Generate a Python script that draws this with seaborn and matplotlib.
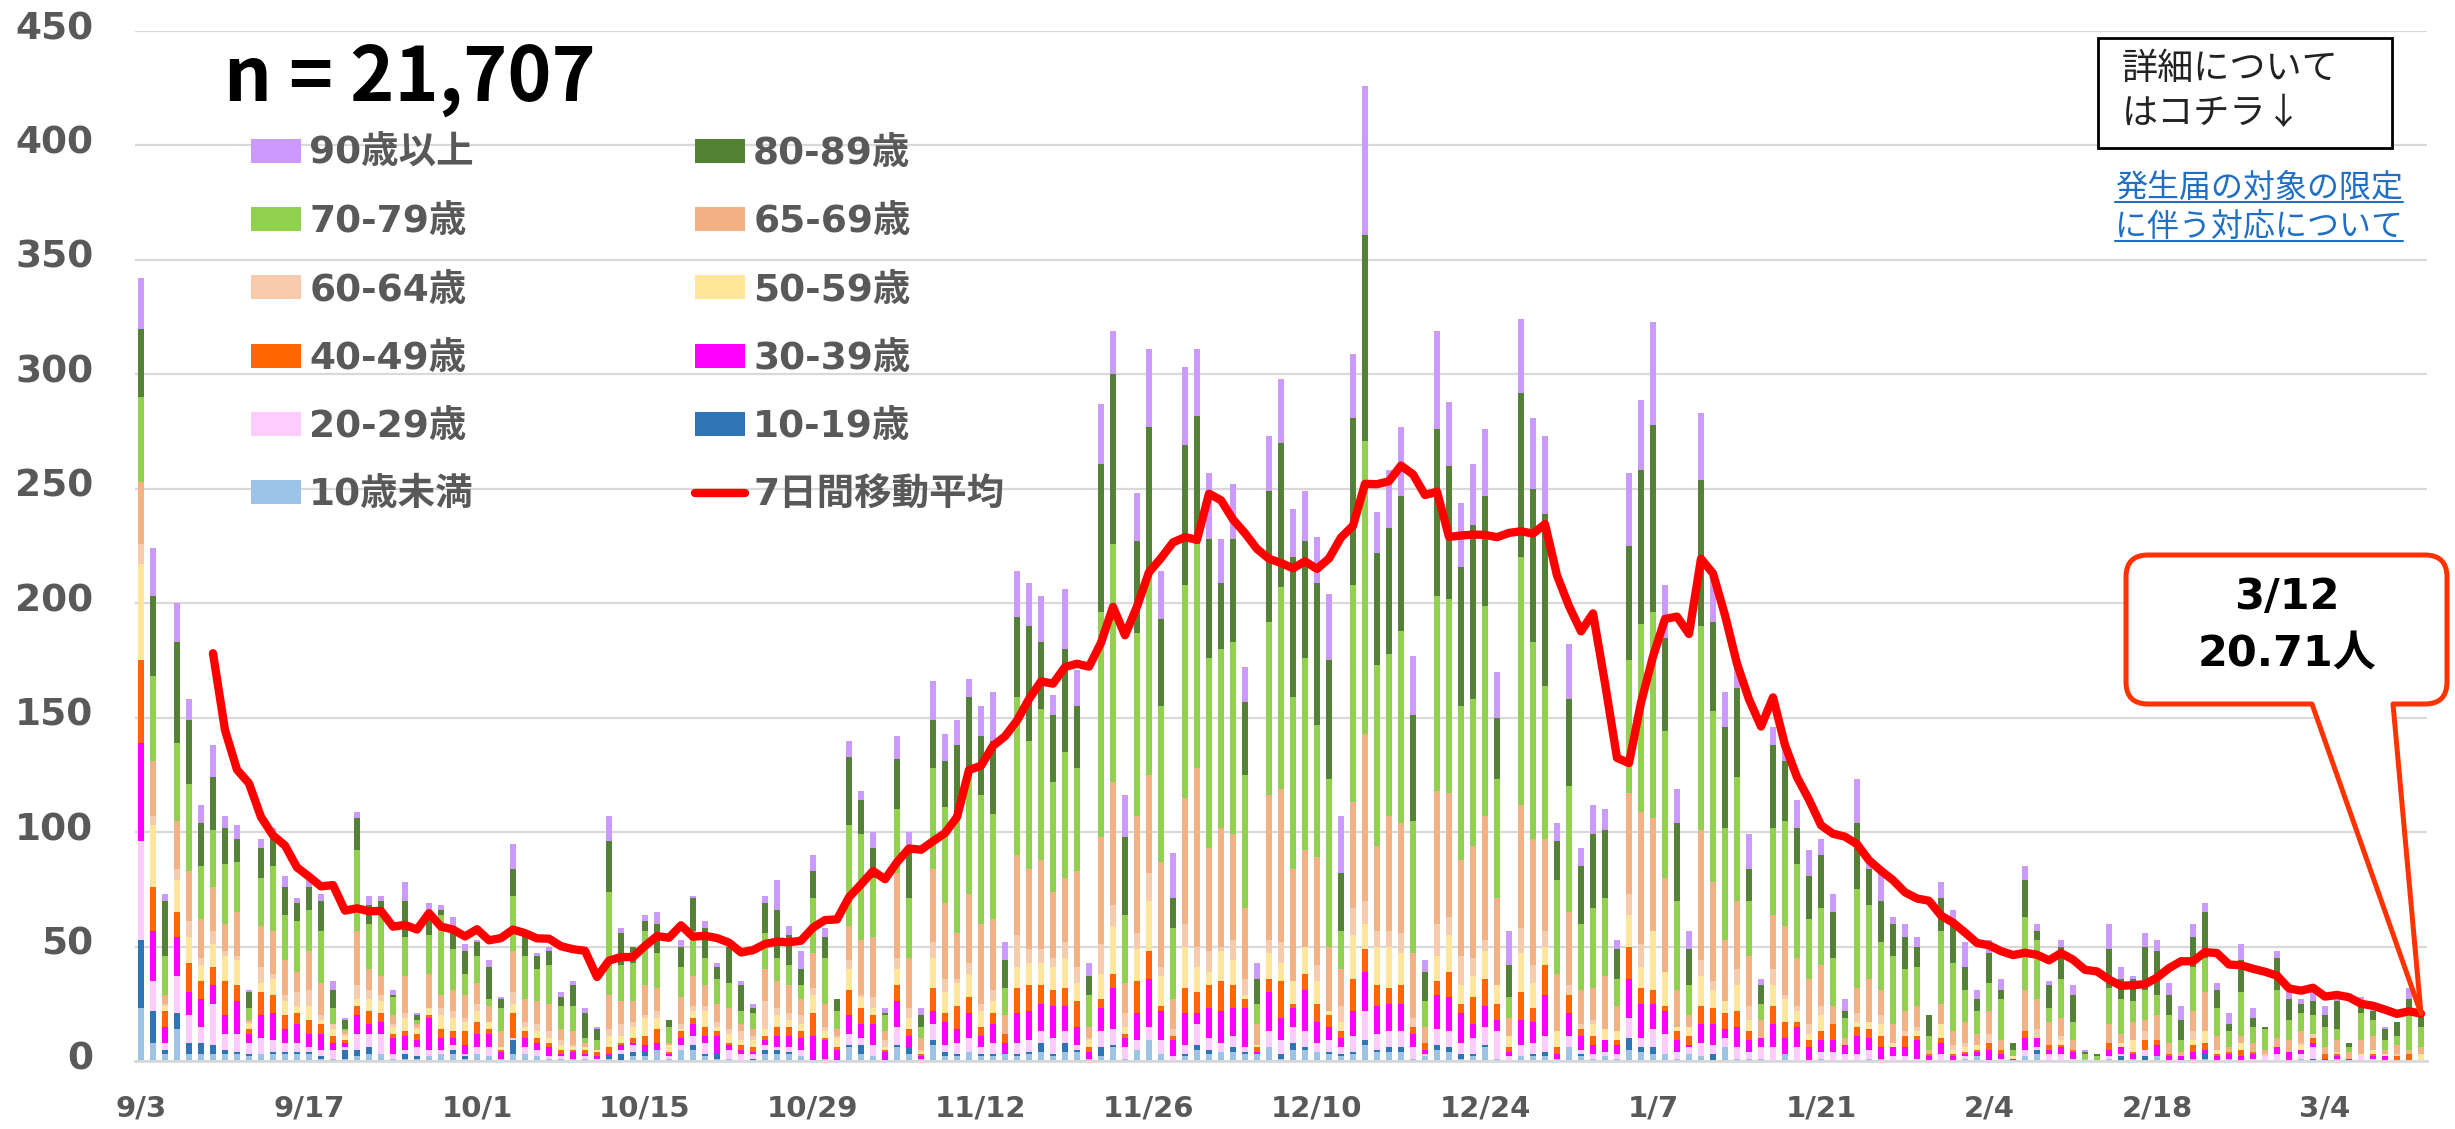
import numpy as np
import pandas as pd
import matplotlib
matplotlib.use("Agg")
import matplotlib.pyplot as plt
import matplotlib.transforms as mtransforms
import seaborn as sns
from matplotlib.patches import Patch, PathPatch, Rectangle
from matplotlib.lines import Line2D
from matplotlib.path import Path
from matplotlib.font_manager import FontProperties

# Daily cases by age group, 9/3 - 3/12
u10 = [23,8,3,14,3,3,3,3,3,2, 3,3,3,3,3,1,1,1,2,3, 3,1,1,1,2,3,3,1,3,2, 1,3,3,2,1,1,1,1,0,1,
       0,2,2,5,1,5,5,2,1,1, 0,0,3,3,3,2,0,1,0,6, 3,2,0,6,3,1,7,2,2,4, 2,2,3,2,3,4,2,4,4,1,
       2,6,1,5,9,3,0,2,5,3, 4,4,3,3,6,1,5,5,4,3, 2,3,7,4,4,4,1,2,5,4, 1,2,6,1,0,2,2,2,1,6,
       2,1,2,1,5,4,3,3,1,3, 2,0,6,1,1,1,0,3,0,0, 1,0,0,0,1,1,0,0,0,0, 0,0,1,2,0,0,0,2,3,0,
       0,0,0,0,1,0,1,0,2,0, 0,1,1,0,1,0,0,0,0,0, 1,0,0,1,0,0,0,0,0,0, 0]
a10 = [30,14,2,7,5,5,4,2,1,1, 0,1,1,1,1,1,0,4,3,3, 0,0,2,1,0,0,2,1,0,0, 0,6,0,0,0,0,0,0,0,1,
       3,2,2,0,0,0,2,1,2,0, 0,1,2,2,1,0,0,0,0,1, 4,0,0,1,3,0,2,2,1,0, 1,1,0,1,1,4,1,4,1,0,
       4,1,0,0,0,0,0,1,2,2, 0,2,1,0,0,2,3,1,0,1, 1,1,2,1,2,2,0,0,2,2, 2,1,1,0,0,0,1,2,0,0,
       1,0,0,0,5,2,3,0,0,0, 0,3,0,0,0,0,0,0,0,0, 0,0,0,0,0,0,0,0,0,0, 0,0,0,0,0,0,0,0,2,0,
       0,0,0,0,0,2,0,2,0,0, 0,0,2,0,0,0,0,0,0,0, 0,1,0,0,0,0,0,0,0,0, 0]
a20 = [43,13,3,16,12,7,18,7,8,5, 7,5,4,4,2,3,4,1,7,6, 9,2,2,4,3,2,2,1,3,4, 0,1,3,3,1,1,0,1,1,0,
       2,3,0,0,1,2,4,5,0,4, 3,2,2,1,2,3,0,0,0,5, 3,5,0,8,0,0,7,3,5,6, 3,5,0,5,5,5,7,5,2,0,
       7,7,5,4,6,6,2,4,9,5, 4,5,2,0,7,6,7,7,4,5, 3,7,13,7,7,7,5,1,7,7, 5,7,8,12,2,5,5,7,0,5,
       2,2,2,2,9,4,8,9,3,3, 6,4,4,5,3,5,6,0,6,0, 3,4,3,3,4,0,2,2,1,0, 3,0,1,0,0,1,0,3,1,3,
       3,1,0,0,1,1,0,3,0,0, 0,0,0,0,0,0,1,2,3,0, 2,5,0,0,0,2,1,0,0,0, 0]
a30 = [43,22,7,17,10,12,8,8,14,4, 10,12,6,8,6,7,3,2,8,4, 5,7,6,3,14,5,3,4,6,6, 3,0,4,3,4,1,3,1,1,1,
       2,1,3,3,1,3,5,3,8,2, 2,1,2,5,5,5,11,8,5,8, 6,9,4,11,5,1,6,10,6,11, 5,8,5,13,13,12,14,11,8,3,
       10,18,4,12,21,13,7,14,5,13, 14,12,17,1,17,10,8,18,9,6, 4,11,17,12,12,12,6,2,15,15,
       13,6,9,5,2,11,9,18,2,10, 6,4,5,4,17,15,11,10,5,1, 8,9,4,9,5,4,10,7,9,6,
       5,5,4,8,5,5,4,4,8,2, 5,2,1,2,5,2,1,5,4,2, 3,3,0,0,3,3,2,0,5,2, 2,3,2,2,2,2,2,0,3,4,
       2,2,1,1,1,0,1,2,0,0, 0]
a40 = [36,19,7,11,13,8,8,15,7,2, 10,8,6,5,6,4,3,1,4,6, 4,2,2,3,1,4,3,6,5,2, 1,11,3,2,2,2,1,2,2,3,
       1,2,4,6,1,3,3,4,2,1, 2,2,2,4,4,3,10,1,1,11, 7,4,1,7,3,1,10,4,10,7, 4,5,4,11,11,8,7,8,11,2,
       4,6,2,14,12,2,2,11,9,10, 13,10,4,2,6,16,2,7,8,5, 3,14,10,9,7,8,3,3,6,11,
       4,12,12,7,2,12,6,13,3,8, 3,4,0,2,14,7,6,2,4,4, 8,7,7,7,4,0,8,7,2,3,
       4,7,0,4,4,5,0,5,2,1, 2,1,1,1,3,2,0,3,0,2, 1,1,0,0,3,0,1,4,2,1, 0,3,3,1,1,3,1,0,0,0,
       0,2,2,1,0,0,1,0,2,3, 0]
a50 = [42,27,2,14,11,7,10,11,11,2, 4,7,6,3,6,2,3,2,3,5, 5,3,6,2,3,6,6,4,5,3, 1,4,2,3,2,2,1,1,1,5,
       3,5,8,5,3,1,3,7,2,4, 2,3,3,5,3,3,8,3,4,9, 5,3,1,7,5,1,13,9,10,10, 7,5,0,9,10,10,10,13,8,3,
       11,21,3,14,22,13,0,18,11,6, 13,11,2,1,11,8,10,12,10,2, 4,19,11,17,18,14,0,0,11,16,
       8,9,12,8,5,17,11,8,7,0, 0,5,5,4,14,9,26,15,2,4, 13,8,5,11,5,0,9,10,5,3,
       7,0,0,2,3,5,2,0,2,0, 6,2,2,2,0,0,1,0,0,0, 2,0,0,0,0,2,5,0,0,0, 0,2,5,2,0,3,0,0,0,0,
       2,0,0,0,0,1,2,1,0,0, 3]
a60 = [9,4,1,5,7,3,6,2,2,1, 7,2,3,6,7,2,2,1,6,4, 3,1,2,1,0,3,3,2,3,0, 0,5,2,3,3,2,1,0,0,3,
       5,2,1,3,0,2,2,2,2,2, 4,2,12,3,3,4,3,2,1,4, 1,5,3,5,4,1,7,6,2,5, 3,5,0,14,6,6,4,7,7,1,
       13,9,6,7,12,4,3,10,9,9, 2,9,7,0,6,9,0,0,7,0, 7,12,10,7,7,9,4,0,14,8,
       13,8,5,0,0,11,8,7,0,4, 2,2,0,0,9,10,0,0,0,0, 7,4,0,7,6,0,7,2,2,4,
       4,0,0,4,0,4,0,2,2,0, 0,2,2,0,4,0,0,0,4,0, 2,0,0,0,0,0,0,4,0,0, 0,4,0,0,0,0,0,1,0,0,
       1,2,0,1,0,0,0,0,1,0, 0]
a65 = [27,24,4,21,22,17,19,12,19,1, 18,19,15,9,17,14,0,1,24,9, 8,4,16,1,15,6,9,10,9,7,
       7,18,10,10,12,5,6,2,0,15, 10,9,13,10,1,12,13,9,8,9, 3,3,14,12,12,7,15,10,3,15,
       24,26,4,37,22,5,32,33,20,30, 35,31,8,35,35,39,29,28,42,5, 47,54,13,51,43,46,13,55,78,45,
       52,46,31,9,63,67,49,42,47,28, 16,46,73,37,50,48,28,7,58,54, 42,49,54,38,8,54,55,40,25,32,
       15,14,23,11,44,58,49,41,16,5, 57,43,27,30,22,8,24,30,21,20, 18,8,3,11,19,11,8,9,9,2,
       9,6,9,5,10,4,0,18,13,10, 8,4,1,0,8,4,8,5,11,5, 2,9,17,6,2,3,4,2,4,5,
       5,0,3,5,3,6,6,2,4,2, 3]
a70 = [37,37,17,34,38,23,25,26,22,5, 21,28,20,22,18,23,7,1,35,20, 27,8,17,2,17,35,18,9,12,3,
       10,24,19,14,17,10,11,2,4,45, 16,17,24,15,7,13,20,12,11,11, 6,7,16,10,9,6,24,20,8,44,
       46,26,7,28,26,5,44,42,52,55, 56,46,12,69,56,66,48,55,45,14, 98,104,30,80,89,68,31,93,98,83,
       78,84,58,9,76,88,75,84,58,73, 17,95,128,79,71,84,58,11,85,85, 67,64,92,52,9,108,86,67,41,55,
       29,35,34,12,58,82,90,64,39,13, 89,75,49,54,24,7,38,46,41,26, 25,21,9,43,32,21,30,18,17,6,
       32,30,14,10,12,18,3,32,26,6, 17,8,2,2,16,15,9,13,9,12, 5,19,15,12,7,19,7,9,21,9,
       8,8,9,5,2,12,7,4,4,16, 9]
a80 = [30,35,24,44,28,19,23,16,10,7, 13,15,12,8,10,13,8,4,14,8, 6,1,16,2,10,2,10,10,6,14,
       4,12,9,6,6,4,9,11,5,22, 14,7,4,13,3,9,14,13,5,16, 11,2,13,21,13,7,12,9,5,30,
       15,13,1,22,21,5,21,20,30,31, 26,32,12,35,50,29,29,45,27,8, 65,74,34,40,63,38,13,61,56,52,
       29,45,32,11,57,63,61,51,62,52, 25,73,90,49,55,59,46,13,73,58, 61,76,48,27,14,72,67,75,17,38,
       25,32,30,13,50,67,82,41,34,16, 64,39,44,39,14,8,36,26,16,19, 23,20,3,29,16,18,14,14,9,9,
       14,19,10,5,13,4,3,16,4,10, 14,12,1,1,17,9,10,19,19,9, 9,13,20,8,3,14,4,1,14,9,
       4,6,5,12,2,5,4,5,6,6, 6]
a90 = [22,21,3,17,9,8,14,5,6,1, 4,2,5,2,3,3,4,1,3,4, 2,2,8,1,4,2,4,3,1,3, 1,11,2,1,2,2,2,2,1,11,
       2,0,3,5,0,3,1,3,2,0, 2,2,3,13,4,8,7,4,0,7, 4,7,2,10,8,3,17,12,11,8, 13,21,8,20,19,20,9,26,16,6,
       26,19,18,21,34,21,20,34,29,29, 19,24,15,7,24,28,21,22,20,29, 25,28,65,18,25,30,26,5,43,28,
       28,27,29,20,15,32,31,34,8,24, 8,13,9,4,32,31,45,23,15,8, 29,20,15,12,15,3,8,6,12,11,
       7,8,5,19,4,12,3,6,4,0, 7,4,11,4,6,5,0,6,3,2, 3,4,1,0,11,5,1,6,5,5, 6,6,4,3,5,7,4,0,3,3,
       2,4,4,2,0,2,2,1,0,5, 0]

groups = [u10, a10, a20, a30, a40, a50, a60, a65, a70, a80, a90]
group_labels = ['10歳未満', '10-19歳', '20-29歳', '30-39歳', '40-49歳', '50-59歳',
                '60-64歳', '65-69歳', '70-79歳', '80-89歳', '90歳以上']
colors = ['#9DC3E6', '#2E75B6', '#FFCCFF', '#FF00FF', '#FF6600', '#FFE699',
          '#F8CBAD', '#F4B183', '#92D050', '#548235', '#CC99FF']
tick_labels = ['9/3', '9/17', '10/1', '10/15', '10/29', '11/12', '11/26',
               '12/10', '12/24', '1/7', '1/21', '2/4', '2/18', '3/4']

# setup
sns.set_theme(style="white")
plt.rcParams['font.family'] = ['DejaVu Sans', 'Noto Sans CJK JP']
GRAY = '#595959'

W, H = 2455, 1129
fig = plt.figure(figsize=(W / 100, H / 100), dpi=100)
ax = fig.add_axes([135 / W, 68 / H, 2292 / W, 1030 / H])

days = np.arange(len(u10))
stack = np.array(groups)
cum = np.cumsum(stack, axis=0)
total = stack.sum(axis=0)

# stacked bars: draw cumulative heights from the top group down
for k in range(len(groups) - 1, -1, -1):
    sns.barplot(x=days, y=cum[k], color=colors[k], width=0.58, saturation=1,
                errorbar=None, linewidth=0, ax=ax, zorder=2)

# 7-day moving average
ma = pd.Series(total).rolling(7).mean()
sns.lineplot(x=days, y=ma.values, color='#FF0000', linewidth=6, estimator=None,
             ax=ax, zorder=5, solid_joinstyle='round', solid_capstyle='round')

ax.set_xlim(-0.5, len(days) - 0.5)
ax.set_ylim(0, 450)
ax.set_yticks(np.arange(0, 451, 50))
ax.set_xticks(np.arange(0, len(days), 14))
ax.set_xticklabels(tick_labels)
ax.set_xticks(np.arange(-0.5, len(days), 14), minor=True)
ax.set_xlabel('')
ax.set_ylabel('')
ax.tick_params(axis='x', which='major', length=0, pad=24, labelsize=21, labelcolor=GRAY)
ax.tick_params(axis='x', which='minor', length=8, width=1.5, color='#D9D9D9')
ax.tick_params(axis='y', length=0, pad=30, labelsize=27, labelcolor=GRAY)
for lab in ax.get_xticklabels() + ax.get_yticklabels():
    lab.set_fontweight('bold')
off = mtransforms.ScaledTranslation(0, 6 / 100, fig.dpi_scale_trans)
for lab in ax.get_yticklabels():
    lab.set_transform(lab.get_transform() + off)

ax.yaxis.grid(True, color='#D9D9D9', linewidth=1.6)
ax.xaxis.grid(False)
ax.set_axisbelow(True)
for s in ['top', 'right', 'left']:
    ax.spines[s].set_visible(False)
ax.spines['bottom'].set_color('#D9D9D9')
ax.spines['bottom'].set_linewidth(2)

# legend, filled row by row in two columns
handles = [Patch(facecolor=c, edgecolor='none') for c in colors]
handles.append(Line2D([], [], color='#FF0000', linewidth=6))
labels = group_labels + ['7日間移動平均']
order = [10, 8, 6, 4, 2, 0, 9, 7, 5, 3, 1, 11]
ax.legend([handles[i] for i in order], [labels[i] for i in order], ncol=2,
          loc='upper left', bbox_to_anchor=(251 / W, 1 - 136 / H),
          bbox_transform=fig.transFigure, frameon=False,
          prop=FontProperties(family=['DejaVu Sans', 'Noto Sans CJK JP'],
                              weight='bold', size=27),
          labelcolor=GRAY, handlelength=1.33, handleheight=0.61,
          handletextpad=0.22, columnspacing=5.9, labelspacing=0.86,
          borderpad=0, borderaxespad=0)

# overlay in pixel coordinates for the annotations
ov = fig.add_axes([0, 0, 1, 1], zorder=10)
ov.set_xlim(0, W)
ov.set_ylim(H, 0)
ov.axis('off')

ov.text(224, 102, 'n = 21,707', fontsize=54, fontweight='bold',
        family=['Noto Sans CJK JP', 'DejaVu Sans'], ha='left', va='baseline', color='black')

ov.add_patch(Rectangle((2098, 38), 294, 110, facecolor='white', edgecolor='black', linewidth=2))
jp = ['Noto Sans CJK JP', 'DejaVu Sans']
ov.text(2122, 69, '詳細について', fontsize=26, family=jp, ha='left', va='center', color='#222222')
ov.text(2122, 114, 'はコチラ↓', fontsize=26, family=jp, ha='left', va='center', color='#222222')

link = [ov.text(2115, 188, '発生届の対象の限定', fontsize=23, family=jp, ha='left', va='center', color='#1F6FC5'),
        ov.text(2115, 227, 'に伴う対応について', fontsize=23, family=jp, ha='left', va='center', color='#1F6FC5')]

# callout pointing at the last moving-average value
tip_disp = ax.transData.transform((days[-1], ma.values[-1]))
tx, ty = ov.transData.inverted().transform(tip_disp)
x0, x1, y0, y1, r = 2126, 2447, 555, 704, 22
b1, b2 = 2312, 2393
verts = [(x0 + r, y0), (x1 - r, y0), (x1, y0), (x1, y0 + r), (x1, y1 - r), (x1, y1), (x1 - r, y1),
         (b2, y1), (tx, ty), (b1, y1), (x0 + r, y1), (x0, y1), (x0, y1 - r), (x0, y0 + r),
         (x0, y0), (x0 + r, y0), (x0 + r, y0)]
codes = [Path.MOVETO, Path.LINETO, Path.CURVE3, Path.CURVE3, Path.LINETO, Path.CURVE3, Path.CURVE3,
         Path.LINETO, Path.LINETO, Path.LINETO, Path.LINETO, Path.CURVE3, Path.CURVE3, Path.LINETO,
         Path.CURVE3, Path.CURVE3, Path.CLOSEPOLY]
ov.add_patch(PathPatch(Path(verts, codes), facecolor='white', edgecolor='#FF3300',
                       linewidth=3.6, joinstyle='round'))
ov.text(2287, 597, '3/12', fontsize=31, fontweight='bold', family=['DejaVu Sans', 'Noto Sans CJK JP'],
        ha='center', va='center', color='black')
ov.text(2287, 655, '20.71人', fontsize=31, fontweight='bold', family=['DejaVu Sans', 'Noto Sans CJK JP'],
        ha='center', va='center', color='black')

# underline the link text
fig.canvas.draw()
rend = fig.canvas.get_renderer()
for t in link:
    bb = t.get_window_extent(rend)
    (lx0, ly0), (lx1, ly1) = ov.transData.inverted().transform([[bb.x0, bb.y0], [bb.x1, bb.y1]])
    uy = max(ly0, ly1) - 2
    ov.plot([lx0, lx1], [uy, uy], color='#1F6FC5', linewidth=1.5)

fig.savefig('out.png', dpi=100)
